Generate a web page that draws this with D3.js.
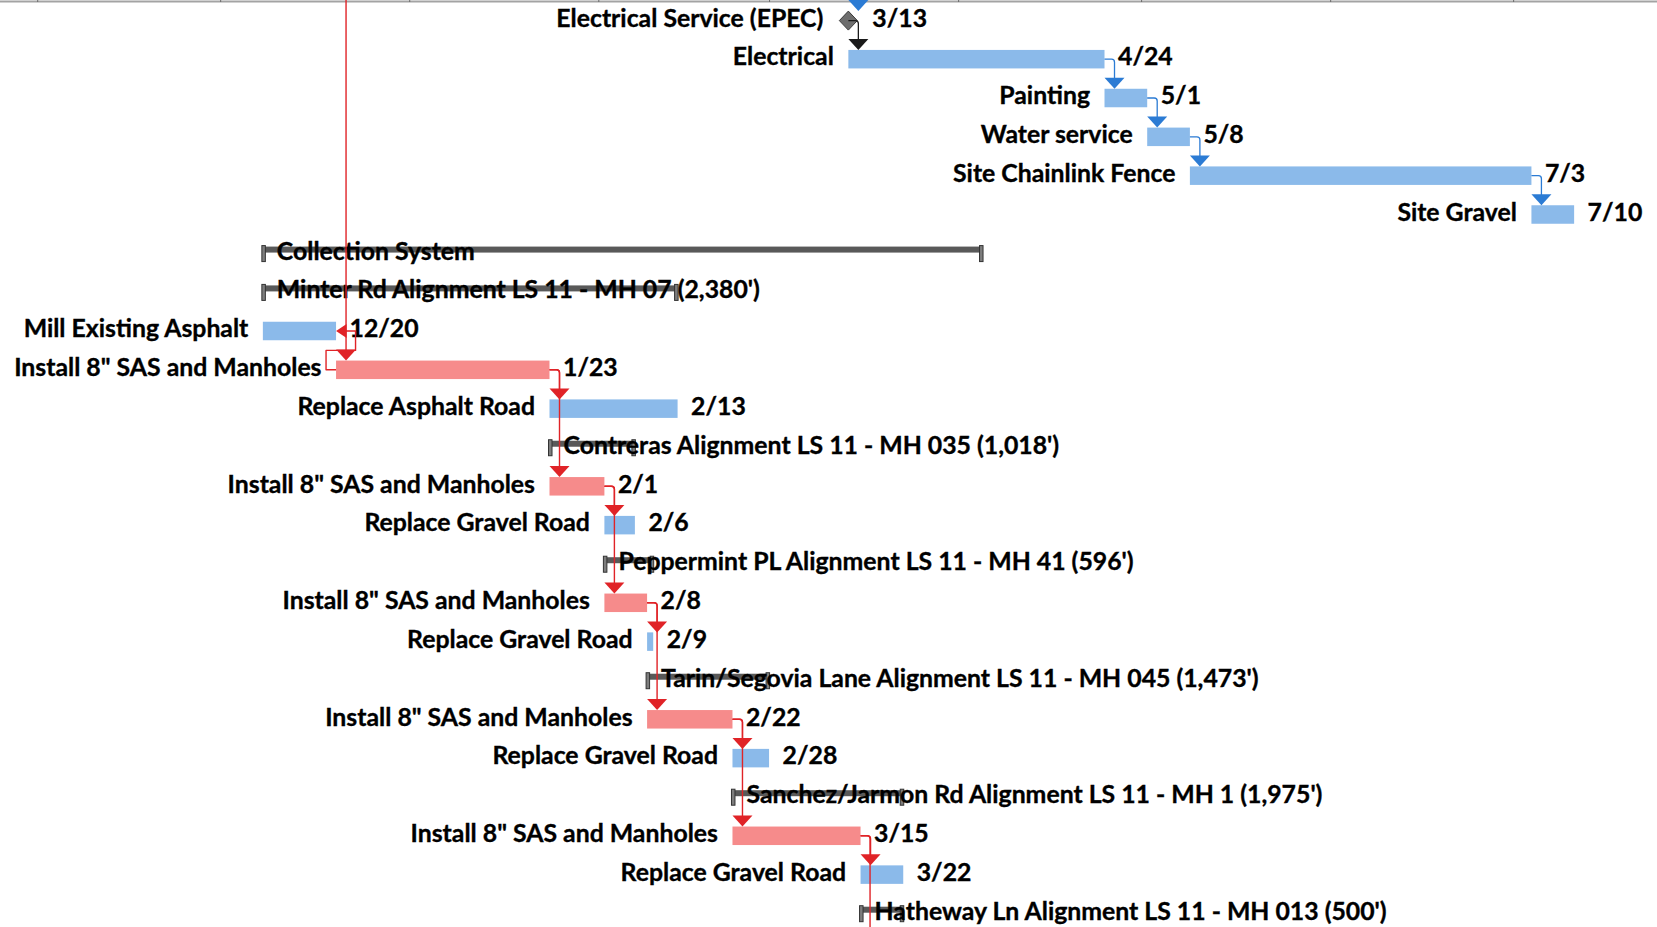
<!DOCTYPE html>
<html><head><meta charset="utf-8">
<script src="https://cdn.jsdelivr.net/npm/d3@7"></script>
<style>
html,body{margin:0;padding:0;background:#fff;overflow:hidden}
svg{display:block}
text{font-family:Lato,"Open Sans",sans-serif;font-weight:700;fill:#000;font-size:24.8px;stroke:#000;stroke-width:0.35px}
</style></head><body>
<svg id="chart" width="1657" height="927"></svg>
<script>
// ---------------- data ----------------
const taskNames = [
  "Electrical Service (EPEC)", "Electrical", "Painting", "Water service", "Site Chainlink Fence", "Site Gravel",
  "Collection System", "Minter Rd Alignment LS 11 - MH 07 (2,380')", "Mill Existing Asphalt", 'Install 8" SAS and Manholes',
  "Replace Asphalt Road", "Contreras Alignment LS 11 - MH 035 (1,018')", 'Install 8" SAS and Manholes', "Replace Gravel Road",
  "Peppermint PL Alignment LS 11 - MH 41 (596')", 'Install 8" SAS and Manholes', "Replace Gravel Road",
  "Tarin/Segovia Lane Alignment LS 11 - MH 045 (1,473')", 'Install 8" SAS and Manholes', "Replace Gravel Road",
  "Sanchez/Jarmon Rd Alignment LS 11 - MH 1 (1,975')", 'Install 8" SAS and Manholes', "Replace Gravel Road",
  "Hatheway Ln Alignment LS 11 - MH 013 (500')"
];
const taskKinds = ["milestone","task","task","task","task","task",
  "summary","summary","task","critical","task","summary","critical","task",
  "summary","critical","task","summary","critical","task","summary","critical","task","summary"];
const startDates = ["2018-03-14","2018-03-14","2018-04-25","2018-05-02","2018-05-09","2018-07-04",
  "2017-12-08","2017-12-08","2017-12-08","2017-12-20","2018-01-24","2018-01-24","2018-01-24","2018-02-02",
  "2018-02-02","2018-02-02","2018-02-09","2018-02-09","2018-02-09","2018-02-23","2018-02-23","2018-02-23","2018-03-16","2018-03-16"];
const endDates = ["2018-03-14","2018-04-25","2018-05-02","2018-05-09","2018-07-04","2018-07-11",
  "2018-04-05","2018-02-14","2017-12-20","2018-01-24","2018-02-14","2018-02-07","2018-02-02","2018-02-07",
  "2018-02-10","2018-02-09","2018-02-10","2018-03-01","2018-02-23","2018-03-01","2018-03-23","2018-03-16","2018-03-23","2018-03-23"];
const finishLabels = ["3/13","4/24","5/1","5/8","7/3","7/10","","","12/20","1/23","2/13","","2/1","2/6","","2/8","2/9","","2/22","2/28","","3/15","3/22",""];
const monthTicks = ["2017-11-01","2017-12-01","2018-01-01","2018-02-01","2018-03-01","2018-04-01","2018-05-01","2018-06-01","2018-07-01","2018-08-01"];
// links: predecessor row (-1 = above view), successor row (24 = below view), type, colour key
const linkPred = [-1, 0, 1, 2, 3, 4, -1, 9, 9, 9, 12, 12, 15, 15, 18, 18, 21, 21];
const linkSucc = [ 0, 1, 2, 3, 4, 5,  9, 8, 10, 12, 13, 15, 16, 18, 19, 21, 22, 24];
const linkType = ["FS","FS","FS","FS","FS","FS","FS","SF","FS","FS","FS","FS","FS","FS","FS","FS","FS","FS"];
const linkColor = ["blue","black","blue","blue","blue","blue","red","red","red","red","red","red","red","red","red","red","red","red"];

// ---------------- drawing ----------------
const W = 1657, H = 927;
const parse = d3.timeParse("%Y-%m-%d");
const x = d3.scaleTime().domain([parse("2017-11-01"), parse("2018-08-01")]).range([37.2, 1702.2]);
const y = d3.scaleLinear().domain([0, 23]).range([11.1, 904.2]);
const BAR_H = 18.5;
const colors = {task:"#8bbaea", critical:"#f68b8b", summary:"#595959", red:"#e02327", blue:"#2b7bd4", black:"#1a1a1a"};

const rows = taskNames.map((n, i) => ({
  i, name: n, kind: taskKinds[i], s: parse(startDates[i]), e: parse(endDates[i]), lab: finishLabels[i]
}));

const svg = d3.select("#chart");

// top border with month ticks
svg.append("line").attr("x1", 0).attr("x2", W).attr("y1", 1.5).attr("y2", 1.5)
  .attr("stroke", "#a3a3a3").attr("stroke-width", 2);
svg.append("g").attr("transform", "translate(0,2)")
  .call(d3.axisTop(x).tickValues(monthTicks.map(parse)).tickSize(2).tickFormat(""))
  .call(g => { g.select(".domain").remove(); g.selectAll(".tick line").attr("stroke", "#6a6a6a"); });

// task bars
svg.append("g").selectAll("rect")
  .data(rows.filter(r => r.kind === "task" || r.kind === "critical"))
  .join("rect")
  .attr("x", r => x(r.s)).attr("y", r => y(r.i))
  .attr("width", r => Math.max(1, x(r.e) - x(r.s))).attr("height", BAR_H)
  .attr("fill", r => colors[r.kind]);

// summary bars
const sums = rows.filter(r => r.kind === "summary");
const sg = svg.append("g");
sg.selectAll("rect.sbar").data(sums).join("rect").attr("class", "sbar")
  .attr("x", r => x(r.s)).attr("y", r => y(r.i) + 2.5)
  .attr("width", r => x(r.e) - x(r.s)).attr("height", 6).attr("fill", colors.summary);

// milestone
const ms = rows.filter(r => r.kind === "milestone");
svg.append("g").selectAll("path").data(ms).join("path")
  .attr("d", r => {
    const cx = x(r.s), cy = y(r.i) + 9.5;
    return `M${cx},${cy - 9.5}L${cx + 9},${cy}L${cx},${cy + 9.5}L${cx - 9},${cy}Z`;
  })
  .attr("fill", "#6e6e6e").attr("stroke", "#3a3a3a").attr("stroke-width", 1);

// texts
const tg = svg.append("g");
tg.selectAll("text.name").data(rows).join("text").attr("class", "name")
  .attr("x", r => r.kind === "summary" ? x(r.s) + 14 : (r.kind === "milestone" ? x(r.s) - 25 : x(r.s) - 14.5))
  .attr("y", r => y(r.i) + 15.5)
  .attr("text-anchor", r => r.kind === "summary" ? "start" : "end")
  .text(r => r.name);
tg.selectAll("text.fin").data(rows.filter(r => r.lab)).join("text").attr("class", "fin")
  .attr("x", r => r.kind === "milestone" ? x(r.s) + 24 : x(r.e) + 13.5)
  .attr("y", r => y(r.i) + 15.5)
  .text(r => r.lab);

// summary end caps (over text)
sg.raise();
sg.selectAll("rect.capL").data(sums).join("rect").attr("class", "capL")
  .attr("x", r => x(r.s) - 1).attr("y", r => y(r.i) + 1.5).attr("width", 3.5).attr("height", 16)
  .attr("fill", "#7d7d7d").attr("stroke", "#333").attr("stroke-width", 1);
sg.selectAll("rect.capR").data(sums).join("rect").attr("class", "capR")
  .attr("x", r => x(r.e) - 3).attr("y", r => y(r.i) + 1.5).attr("width", 3.5).attr("height", 16)
  .attr("fill", "#7d7d7d").attr("stroke", "#333").attr("stroke-width", 1);
tg.raise();

// links
const lg = svg.append("g").attr("fill", "none");
const links = linkPred.map((p, k) => ({p, s: linkSucc[k], type: linkType[k], c: colors[linkColor[k]]}));
const ctr = i => y(i) + BAR_H / 2;
links.forEach(L => {
  if (L.type === "SF") {
    const ps = x(rows[L.p].s), pc = ctr(L.p);
    const se = x(rows[L.s].e), sc = ctr(L.s);
    const mid = (y(L.s) + BAR_H + y(L.p)) / 2;
    lg.append("path").attr("d", `M${ps},${pc}H${ps - 10}V${mid}H${se + 19.5}V${sc}H${se + 9}`)
      .attr("stroke", L.c).attr("stroke-width", 1.4).attr("stroke-linejoin", "round");
    lg.append("path").attr("d", `M${se},${sc}L${se + 10.5},${sc - 7}L${se + 10.5},${sc + 7}Z`)
      .attr("fill", L.c);
    return;
  }
  const xa = L.s < rows.length ? x(rows[L.s].s) + 10 : null;
  let d;
  if (L.p < 0) {
    d = `M${xa},0V${y(L.s) - 10}`;
  } else {
    const pr = rows[L.p];
    const px = pr.kind === "milestone" ? x(pr.s) : x(pr.e);
    const py = pr.kind === "milestone" ? y(L.p) + 9.5 : ctr(L.p);
    const xv = L.s < rows.length ? xa : x(pr.e) + 9.5;
    const yEnd = L.s < rows.length ? y(L.s) - 10 : H + 5;
    d = `M${px},${py}H${xv - 3}Q${xv},${py} ${xv},${py + 3}V${yEnd}`;
  }
  lg.append("path").attr("d", d).attr("stroke", L.c).attr("stroke-width", L.c === colors.red ? 1.4 : 1.3);
  if (L.s < rows.length) {
    const ty = y(L.s);
    lg.append("path").attr("d", `M${xa},${ty}L${xa - 10},${ty - 11}L${xa + 10},${ty - 11}Z`).attr("fill", L.c);
  }
});
</script>
</body></html>
